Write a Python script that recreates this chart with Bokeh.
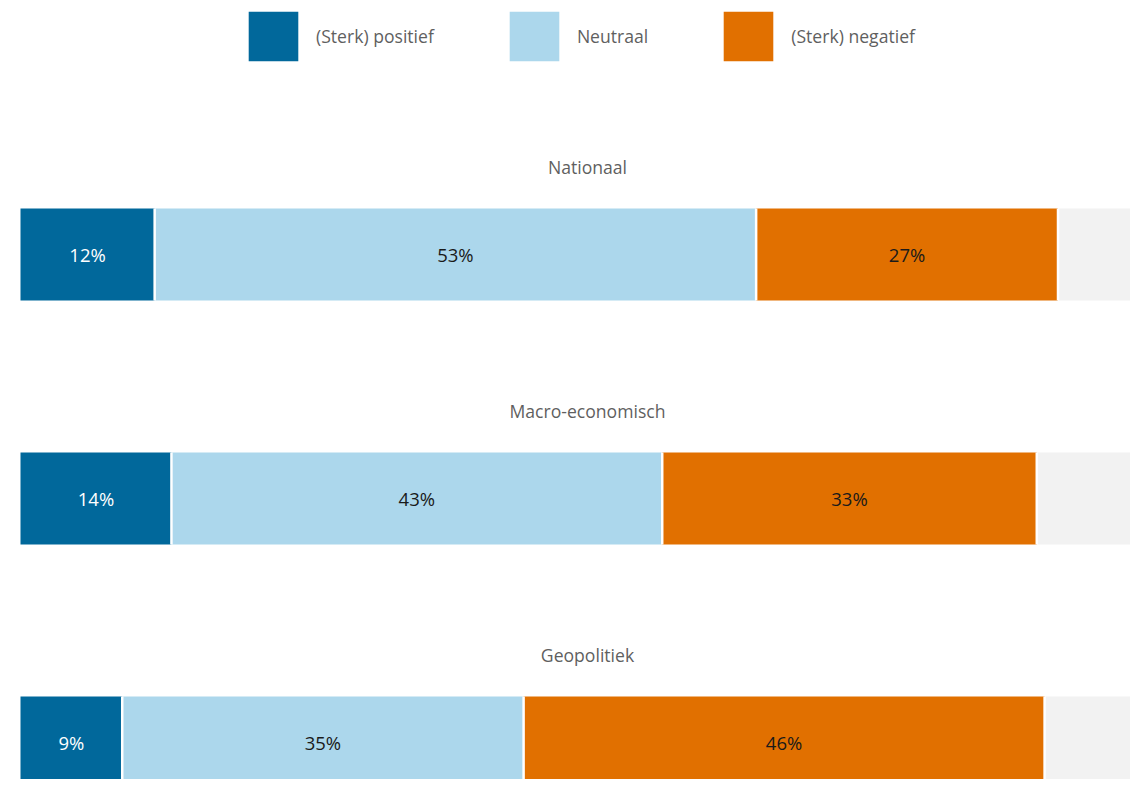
from bokeh.plotting import figure
from bokeh.models import Range1d, ColumnDataSource, Legend, LegendItem
from bokeh.core.properties import value
from bokeh.embed import file_html
from bokeh.resources import INLINE

categories = ["Nationaal", "Macro-economisch", "Geopolitiek"]
series_names = ["(Sterk) positief", "Neutraal", "(Sterk) negatief"]
positief = [12.0, 13.5, 9.1]
neutraal = [53.8, 43.9, 35.9]
negatief = [27.0, 33.5, 46.6]
labels_positief = ["12%", "14%", "9%"]
labels_neutraal = ["53%", "43%", "35%"]
labels_negatief = ["27%", "33%", "46%"]

colors = ["#01689b", "#acd7ec", "#e17000"]
rest_color = "#f2f2f2"
FONT = "Open Sans"

W, H = 1130, 779
px_per_unit = 1118 / 100.0
left_px = 20
x_start = -left_px / px_per_unit
x_end = (W - left_px) / px_per_unit
row_px = 244.0
first_row_px = 254
y_top = -first_row_px / row_px
y_bottom = (H - first_row_px) / row_px

p = figure(width=W, height=H, output_backend="svg", toolbar_location=None,
           x_range=Range1d(x_start, x_end), y_range=Range1d(y_bottom, y_top),
           min_border=0, outline_line_color=None)
p.axis.visible = False
p.grid.visible = False
p.background_fill_color = "white"
p.border_fill_color = "white"

ys = list(range(len(categories)))
bar_h = 92 / row_px

s1 = [a for a in positief]
s2 = [a + b for a, b in zip(positief, neutraal)]
s3 = [a + b + c for a, b, c in zip(positief, neutraal, negatief)]

title_x = (587 - left_px) / px_per_unit

src = ColumnDataSource(dict(
    y=ys, l0=[0] * 3, r1=s1, r2=s2, r3=s3, full=[100] * 3,
    y0=[y - bar_h / 2 for y in ys], y1=[y + bar_h / 2 for y in ys],
    c1=[a / 2 for a in s1],
    c2=[(a + b) / 2 for a, b in zip(s1, s2)],
    c3=[(a + b) / 2 for a, b in zip(s2, s3)],
    lab1=labels_positief, lab2=labels_neutraal, lab3=labels_negatief,
    cat=categories, ty=[y - 87.5 / row_px for y in ys],
    tx=[title_x] * 3,
))

p.hbar(y="y", left="r3", right="full", height=bar_h, source=src,
       fill_color=rest_color, line_color=None)
r1 = p.hbar(y="y", left="l0", right="r1", height=bar_h, source=src,
            fill_color=colors[0], line_color=None)
r2 = p.hbar(y="y", left="r1", right="r2", height=bar_h, source=src,
            fill_color=colors[1], line_color=None)
r3 = p.hbar(y="y", left="r2", right="r3", height=bar_h, source=src,
            fill_color=colors[2], line_color=None)

# white separators between segments
for col in ["r1", "r2", "r3"]:
    p.segment(x0=col, x1=col, y0="y0", y1="y1",
              source=src, line_color="white", line_width=2.5)

common = dict(text_align="center", text_baseline="middle",
              text_font=value(FONT), text_font_size="18.5px", source=src)
p.text(x="c1", y="y", text="lab1", text_color="white", **common)
p.text(x="c2", y="y", text="lab2", text_color="#1a1a1a", **common)
p.text(x="c3", y="y", text="lab3", text_color="#1a1a1a", **common)

# category titles centered over the bars
p.text(x="tx", y="ty", text="cat", text_color="#5f5f5f", text_align="center",
       text_baseline="middle", text_font=value(FONT), text_font_size="17.6px",
       source=src)

gw = 62  # bokeh draws bar legend glyphs inset by 10% on each side
legend = Legend(items=[LegendItem(label=series_names[0], renderers=[r1]),
                       LegendItem(label=series_names[1], renderers=[r2]),
                       LegendItem(label=series_names[2], renderers=[r3])],
                orientation="horizontal", location=(242, H - 67),
                glyph_width=gw, glyph_height=gw, label_standoff=12,
                spacing=69, padding=0, margin=0,
                border_line_color=None, background_fill_alpha=0,
                label_text_font=FONT, label_text_font_size="17.6px",
                label_text_color="#5f5f5f")
p.add_layout(legend)

open("out.html", "w").write(file_html(p, INLINE))
